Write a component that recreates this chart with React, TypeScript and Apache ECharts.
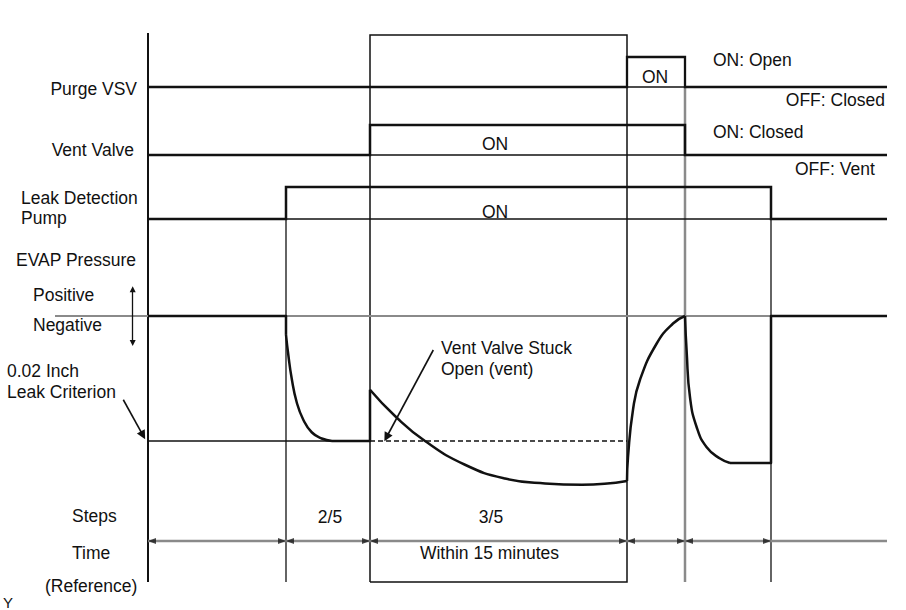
import React, { useEffect, useRef } from "react";
import * as echarts from "echarts";

// ---- data (time in arbitrary units, signals as levels) ----
const T_START = -93;
const T_END = 739;
const STEP_BOUNDARIES = [0, 138, 222, 479, 537, 623];
const STEP_NAMES = ["", "2/5", "3/5", "", "", ""];

const PURGE_VSV = [[0, 0], [479, 0], [479, 1], [537, 1], [537, 0], [739, 0]];
const VENT_VALVE = [[0, 0], [222, 0], [222, 1], [537, 1], [537, 0], [739, 0]];
const LEAK_PUMP = [[0, 0], [138, 0], [138, 1], [623, 1], [623, 0], [739, 0]];

// EVAP pressure (0 = atmospheric, -1 = 0.02 inch leak criterion)
const CRITERION = -1.0;
const P_INITIAL = [[0, 0], [138, 0], [138, -0.15]];
const P_DECAY = [[138, -0.15], [140.3, -0.31], [143.7, -0.5], [148.7, -0.69], [155.3, -0.83], [163.7, -0.93], [173.7, -0.98], [184, -1.0]];
const P_HOLD = [[184, -1.0], [222, -1.0], [222, -0.59]];
const P_STUCK = [[222, -0.59], [247, -0.8], [277, -1.0], [317, -1.19], [357, -1.3], [397, -1.34], [434, -1.35], [479, -1.32]];
const P_PURGE_RISE = [[479, -1.32], [480, -1.13], [485, -0.75], [492, -0.51], [508.7, -0.22], [525, -0.06], [537, 0]];
const P_PURGE_FALL = [[537, 0], [538.7, -0.29], [542, -0.65], [548.7, -0.89], [558.7, -1.05], [572, -1.14], [582, -1.176]];
const P_END = [[582, -1.176], [623, -1.176], [623, 0], [739, 0]];

const FONT = "'Liberation Sans', Arial, Helvetica, sans-serif";
const BLACK = "#111";
const GREY = "#8a8a8a";

function ln(gi: number, data: number[][], color: string, width: number, extra: any = {}) {
  return {
    type: "line",
    xAxisIndex: gi,
    yAxisIndex: gi,
    data,
    symbol: "none",
    showSymbol: false,
    clip: false,
    silent: true,
    animation: false,
    emphasis: { disabled: true },
    lineStyle: { color, width, join: "round", cap: "butt", ...(extra.lineStyle || {}) },
    z: extra.z ?? 3,
    smooth: extra.smooth ?? false,
    markLine: extra.markLine,
  };
}

function mk(symbol: any, size: number, color: string, width: number, pairs: number[][][]) {
  return {
    silent: true,
    animation: false,
    symbol,
    symbolSize: size,
    label: { show: false },
    emphasis: { disabled: true },
    lineStyle: { color, width, type: "solid" },
    itemStyle: { color },
    data: pairs.map((p) => [{ coord: p[0] }, { coord: p[1] }]),
  };
}

function heads(data: number[][], rotate: number) {
  return {
    type: "scatter",
    xAxisIndex: 4,
    yAxisIndex: 4,
    data,
    symbol: "triangle",
    symbolSize: [6, 8],
    symbolRotate: rotate,
    itemStyle: { color: "#1a1a1a" },
    silent: true,
    animation: false,
    clip: false,
    emphasis: { disabled: true },
    z: 4,
  };
}

function txt(text: string, x: number, y: number, align = "left", size = 17.5) {
  return {
    type: "text",
    x,
    y,
    silent: true,
    style: { text, fill: BLACK, font: `${size}px ${FONT}`, align, verticalAlign: "middle" },
  };
}

function buildOption() {
  const L = 55, R = 19;
  const grids = [
    { left: L, right: R, top: 57, height: 30 }, // purge VSV
    { left: L, right: R, top: 125, height: 30 }, // vent valve
    { left: L, right: R, top: 187, height: 32 }, // pump
    { left: L, right: R, top: 266, height: 225 }, // pressure
    { left: L, right: R, top: 0, height: 610 }, // overlay (page rows)
  ];
  const xAxis = grids.map((_, i) => ({ gridIndex: i, type: "value", min: T_START, max: T_END, show: false }));
  const yAxis = [
    { gridIndex: 0, type: "value", min: 0, max: 1, show: false },
    { gridIndex: 1, type: "value", min: 0, max: 1, show: false },
    { gridIndex: 2, type: "value", min: 0, max: 1, show: false },
    { gridIndex: 3, type: "value", min: -1.4, max: 0.4, show: false },
    { gridIndex: 4, type: "value", min: 0, max: 610, inverse: true, show: false },
  ];

  const [t0, t1, t2, t3, t4, t5] = STEP_BOUNDARIES;
  const TOP = 33, BOT = 582, BOX_TOP = 35, ROW_TIME = 541, HEAD = 4;

  const series: any[] = [];
  // overlay verticals / box
  series.push(ln(4, [[t0, TOP], [t0, BOT]], BLACK, 2, { z: 1 }));
  series.push(ln(4, [[t1, 187], [t1, BOT]], BLACK, 1.3, { z: 1 }));
  series.push(ln(4, [[t5, 187], [t5, BOT]], BLACK, 1.3, { z: 1 }));
  series.push(ln(4, [[t2, BOT], [t2, BOX_TOP], [t3, BOX_TOP], [t3, BOT], [t2, BOT]], BLACK, 1.5, { z: 1, lineStyle: { join: "miter" } }));
  series.push(ln(4, [[t4, 87], [t4, BOT]], GREY, 2.5, { z: 1 }));
  // time row
  series.push(ln(4, [[t0, ROW_TIME], [T_END, ROW_TIME]], GREY, 2.5, { z: 1 }));
  const leftHeads: number[][] = [];
  const rightHeads: number[][] = [];
  for (let i = 0; i < STEP_BOUNDARIES.length - 1; i++) {
    leftHeads.push([STEP_BOUNDARIES[i] + HEAD, ROW_TIME]);
    rightHeads.push([STEP_BOUNDARIES[i + 1] - HEAD, ROW_TIME]);
  }
  series.push(heads(leftHeads, 90));
  series.push(heads(rightHeads, -90));

  // thin baselines during ON states
  series.push(ln(0, [[t3, 0], [t4, 0]], BLACK, 1.3, { z: 2 }));
  series.push(ln(1, [[t2, 0], [t4, 0]], BLACK, 1.3, { z: 2 }));
  series.push(ln(2, [[t1, 0], [t5, 0]], BLACK, 1.3, { z: 2 }));
  // digital signals
  const sig = { lineStyle: { join: "miter" } };
  series.push(ln(0, PURGE_VSV, BLACK, 2.3, sig));
  series.push(ln(1, VENT_VALVE, BLACK, 2.5, sig));
  series.push(ln(2, LEAK_PUMP, BLACK, 2.5, sig));

  // pressure
  series.push(ln(3, [[T_START, 0], [T_END, 0]], GREY, 2, { z: 2 }));
  series.push(ln(3, [[t0, CRITERION], [t2, CRITERION]], BLACK, 1.5, { z: 2 }));
  series.push(ln(3, [[t2, CRITERION], [t3, CRITERION]], BLACK, 1.3, { z: 2, lineStyle: { type: [5, 3] } }));
  series.push(ln(3, P_INITIAL, BLACK, 2.5));
  series.push(ln(3, P_DECAY, BLACK, 2.5, { smooth: 0.5 }));
  series.push(ln(3, P_HOLD, BLACK, 2.5));
  series.push(ln(3, P_STUCK, BLACK, 2.5, { smooth: 0.5 }));
  series.push(ln(3, P_PURGE_RISE, BLACK, 2.5, { smooth: 0.5 }));
  series.push(ln(3, P_PURGE_FALL, BLACK, 2.5, { smooth: 0.5 }));
  series.push(ln(3, P_END, BLACK, 2.5));
  // annotation arrows
  series.push(ln(3, [], BLACK, 0, { markLine: mk(["none", "triangle"], 9, BLACK, 1.6, [[[-24.7, -0.67], [-5, -0.955]], [[285.3, -0.272], [238.5, -0.97]]]) }));
  series.push(ln(3, [], BLACK, 0, { markLine: mk(["triangle", "triangle"], 6, BLACK, 1.3, [[[-15.3, 0.215], [-15.3, -0.215]]]) }));

  const texts: any[] = [
    txt("Purge VSV", 137, 89, "right"),
    txt("Vent Valve", 134, 150, "right"),
    txt("Leak Detection", 21, 198),
    txt("Pump", 21, 218),
    txt("EVAP Pressure", 16, 260),
    txt("Positive", 33, 295),
    txt("Negative", 33, 325),
    txt("0.02 Inch", 7, 371),
    txt("Leak Criterion", 7, 392),
    txt("Vent Valve Stuck", 441, 348),
    txt("Open (vent)", 441, 369),
    txt("ON", 655, 77, "center"),
    txt("ON", 495, 144, "center"),
    txt("ON", 495, 212, "center"),
    txt("ON: Open", 713, 60),
    txt("OFF: Closed", 885, 100, "right"),
    txt("ON: Closed", 713, 132),
    txt("OFF: Vent", 795, 169),
    txt("Steps", 72, 516),
    txt(STEP_NAMES[1], 330, 517, "center"),
    txt(STEP_NAMES[2], 491, 517, "center"),
    txt("Time", 72, 553),
    txt("Within 15 minutes", 489.5, 553, "center"),
    txt("(Reference)", 45, 586),
    txt("Y", 3, 602, "left", 15),
  ];

  return {
    animation: false,
    backgroundColor: "#ffffff",
    grid: grids,
    xAxis,
    yAxis,
    series,
    graphic: { elements: texts },
  };
}

export default function App() {
  const ref = useRef<HTMLDivElement>(null);
  useEffect(() => {
    if (!ref.current) return;
    const chart = echarts.init(ref.current, undefined, { renderer: "svg" });
    chart.setOption(buildOption() as any);
    return () => chart.dispose();
  }, []);
  return (
    <div
      ref={ref}
      style={{ position: "absolute", left: 0, top: 0, width: 906, height: 610, background: "#fff" }}
    />
  );
}
